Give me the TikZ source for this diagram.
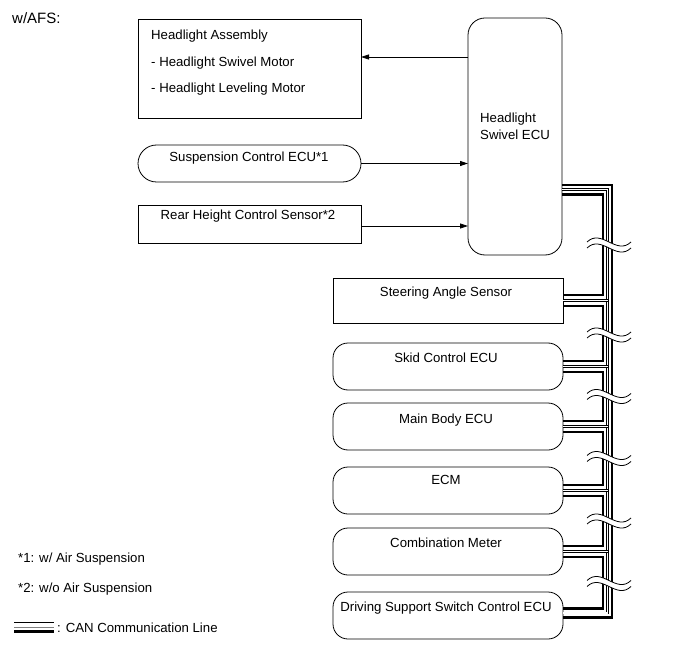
\documentclass[tikz,border=0pt]{standalone}
\usepackage{fontspec}
\setmainfont{Liberation Sans}
\usetikzlibrary{arrows.meta,calc}
\begin{document}
\begin{tikzpicture}[x=1pt,y=-1pt,
  box/.style={draw,line width=0.8pt,anchor=north west,inner sep=0pt,outer sep=0pt},
  rbox/.style={box,rounded corners=15pt},
  txt/.style={font=\fontsize{13.2}{15}\selectfont,inner sep=0pt,anchor=base},
  ltxt/.style={txt,anchor=base west},
  conn/.style={line width=0.8pt,-{Triangle[length=8pt,width=5pt]}},
  canthick/.style={line width=2.2pt},
  canmid/.style={line width=0.6pt,double=white,double distance=1.2pt},
  wave/.style={line width=0.8pt}
]
\useasboundingbox (0,0) rectangle (690,660);

% boxes
\node[box,minimum width=223pt,minimum height=99pt] (ha) at (138,19) {};
\node[box,rounded corners=18.5pt,minimum width=223pt,minimum height=37pt] (susp) at (138,145) {};
\node[box,minimum width=223pt,minimum height=38pt] (rhs) at (138,205) {};
\node[box,rounded corners=17pt,minimum width=94pt,minimum height=237pt] (ecu) at (468,18) {};
\node[box,minimum width=230pt,minimum height=45pt] (sas) at (333,278) {};
\node[rbox,minimum width=230pt,minimum height=47pt] (skid) at (333,343) {};
\node[rbox,minimum width=230pt,minimum height=47pt] (body) at (333,403) {};
\node[rbox,minimum width=230pt,minimum height=47pt] (ecm) at (333,467) {};
\node[rbox,minimum width=230pt,minimum height=47pt] (meter) at (333,528) {};
\node[rbox,minimum width=230pt,minimum height=47pt] (dss) at (333,592) {};

% texts
\node[ltxt,font=\fontsize{15}{17}\selectfont] (title) at (12,23.5) {w/AFS:};
\node[ltxt] (ha1) at (151,40) {Headlight Assembly};
\node[ltxt] (ha2) at (151,66.5) {- Headlight Swivel Motor};
\node[ltxt] (ha3) at (151,93) {- Headlight Leveling Motor};
\node[txt] (suspt) at (249,161.5) {Suspension Control ECU*1};
\node[txt] (rhst) at (248,219.5) {Rear Height Control Sensor*2};
\node[ltxt] (ecu1) at (480,122.5) {Headlight};
\node[ltxt] (ecu2) at (480,139.5) {Swivel ECU};
\node[txt] (sast) at (446,296.5) {Steering Angle Sensor};
\node[txt] (skidt) at (446,362.5) {Skid Control ECU};
\node[txt] (bodyt) at (446,423.5) {Main Body ECU};
\node[txt] (ecmt) at (446,484.5) {ECM};
\node[txt] (metert) at (446,547.5) {Combination Meter};
\node[txt] (dsst) at (446,611.5) {Driving Support Switch Control ECU};
\node[ltxt] (n1) at (18,562.5) {*1: w/ Air Suspension};
\node[ltxt] (n2) at (18,592.5) {*2: w/o Air Suspension};
\node[ltxt] (n3) at (57,632.5) {: CAN Communication Line};

% arrows
\draw[conn] ($(ecu.north west)+(0,39)$) -- ($(ha.north east)+(0,38)$);
\draw[conn] (susp.east) -- (susp.east -| ecu.west);
\draw[conn] ([yshift=-2pt]rhs.east) -- ([yshift=-2pt]rhs.east -| ecu.west);

% CAN bus trunks
\coordinate (xin) at (603,0);
\coordinate (xmid) at (607.5,0);
\coordinate (xout) at (612,0);
\draw[canthick] ([yshift=-48.5pt]ecu.east) -| ([yshift=-2pt]xout |- dss.east) -- ([yshift=-2pt]dss.east);
\draw[canmid] ([yshift=-53pt]ecu.east) -| ([yshift=2.5pt]xmid |- dss.east) -- ([yshift=2.5pt]dss.east);
\foreach \n in {sas,skid,body,ecm,meter}
  \draw[canmid] (\n.east) -- (xmid |- \n.east);
\draw[canthick] ([yshift=-58pt]ecu.east) -| ([yshift=5.5pt]xin |- sas.east) -- ([yshift=5.5pt]sas.east);
\foreach \a/\b in {sas/skid,skid/body,body/ecm,ecm/meter}
  \draw[canthick] ([yshift=-5.5pt]\a.east) -| ([yshift=5.5pt]xin |- \b.east) -- ([yshift=5.5pt]\b.east);
\draw[canthick] ([yshift=-5.5pt]meter.east) -| ([yshift=7pt]xin |- dss.east) -- ([yshift=7pt]dss.east);

% break marks
\foreach \y in {245,335,396.5,458.5,521,583.5}{
  \fill[white] (587,\y-3) .. controls (601.7,\y-17) and (616.3,\y+11) .. (631,\y-3)
     -- (631,\y+3) .. controls (616.3,\y+17) and (601.7,\y-11) .. (587,\y+3) -- cycle;
  \draw[wave] (587,\y-3) .. controls (601.7,\y-17) and (616.3,\y+11) .. (631,\y-3);
  \draw[wave] (587,\y+3) .. controls (601.7,\y-11) and (616.3,\y+17) .. (631,\y+3);
}

% legend sample
\coordinate (lgA) at (14,627);
\coordinate (lgB) at (54,627);
\draw[line width=1.3pt] ([yshift=4.5pt]lgA) -- ([yshift=4.5pt]lgB);
\draw[line width=0.9pt,gray] (lgA) -- (lgB);
\draw[line width=2.4pt] ([yshift=-4.5pt]lgA) -- ([yshift=-4.5pt]lgB);
\end{tikzpicture}
\end{document}
